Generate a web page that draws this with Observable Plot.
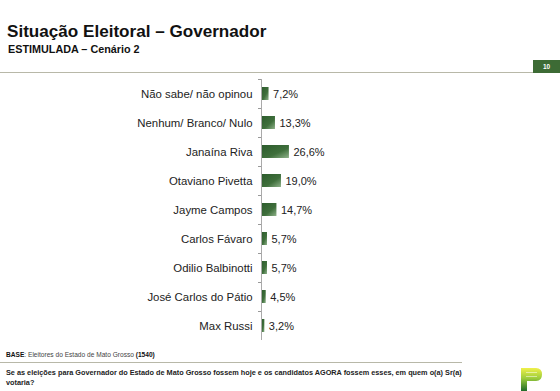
<!DOCTYPE html>
<html>
<head>
<meta charset="utf-8">
<script src="https://cdn.jsdelivr.net/npm/d3@7"></script>
<script src="https://cdn.jsdelivr.net/npm/@observablehq/plot@0.6"></script>
<style>
  html, body { margin: 0; padding: 0; background: #fff; }
  #page { position: relative; width: 560px; height: 391px; overflow: hidden; font-family: "Liberation Sans", Arial, sans-serif; color: #111; }
  #title { position: absolute; left: 7px; top: 22px; font-size: 17.1px; font-weight: bold; white-space: nowrap; }
  #subtitle { position: absolute; left: 8px; top: 43px; font-size: 10.8px; font-weight: bold; white-space: nowrap; }
  #topline { position: absolute; left: 0; top: 72px; width: 534px; height: 1px; background: #b8b8a8; }
  #pagebox { position: absolute; left: 533px; top: 60px; width: 27px; height: 13px; background: #3d6b35; color: #fff; font-size: 6.5px; font-weight: bold; text-align: center; line-height: 13px; }
  #chart { position: absolute; left: 0; top: 79px; }
  #base { position: absolute; left: 6px; top: 351px; font-size: 6.6px; color: #444; white-space: nowrap; }
  #base b { color: #111; }
  #bottomline { position: absolute; left: 0; top: 362px; width: 462px; height: 1px; background: #b8b8a8; }
  #question { position: absolute; left: 6px; top: 368px; width: 470px; font-size: 7.3px; font-weight: bold; line-height: 9.5px; color: #222; }
  #logo { position: absolute; left: 521px; top: 367px; }
</style>
</head>
<body>
<div id="page">
  <div id="title">Situação Eleitoral – Governador</div>
  <div id="subtitle">ESTIMULADA – Cenário 2</div>
  <div id="topline"></div>
  <div id="pagebox">10</div>
  <div id="chart"></div>
  <div id="base"><b>BASE</b>: Eleitores do Estado de Mato Grosso <b>(1540)</b></div>
  <div id="bottomline"></div>
  <div id="question">Se as eleições para Governador do Estado de Mato Grosso fossem hoje e os candidatos AGORA fossem esses, em quem o(a) Sr(a) votaria?</div>
  <svg id="logo" width="22" height="24" viewBox="0 0 22 24">
    <defs>
      <linearGradient id="logoGrad" x1="0" y1="0" x2="0" y2="1">
        <stop offset="0" stop-color="#f0f04a"/>
        <stop offset="0.45" stop-color="#9ccc3c"/>
        <stop offset="1" stop-color="#1f6b2a"/>
      </linearGradient>
    </defs>
    <path d="M0 1 H15 Q21 1 21 7.5 Q21 14 15 14 H6 V24 H0 Z" fill="url(#logoGrad)"/>
    <rect x="5" y="5" width="11" height="1" fill="#fff" opacity="0.5"/>
    <rect x="5" y="9" width="11" height="1" fill="#fff" opacity="0.5"/>
  </svg>
</div>
<script>
const categories = [
  "Não sabe/ não opinou",
  "Nenhum/ Branco/ Nulo",
  "Janaína Riva",
  "Otaviano Pivetta",
  "Jayme Campos",
  "Carlos Fávaro",
  "Odilio Balbinotti",
  "José Carlos do Pátio",
  "Max Russi"
];
const values = [7.2, 13.3, 26.6, 19.0, 14.7, 5.7, 5.7, 4.5, 3.2];

const data = categories.map((c, i) => ({name: c, value: values[i]}));
const fmt = v => v.toFixed(1).replace(".", ",") + "%";

const chart = Plot.plot({
  width: 560,
  height: 263,
  marginLeft: 261,
  marginRight: 194,
  marginTop: 0,
  marginBottom: 2,
  style: {fontFamily: "'Liberation Sans', Arial, sans-serif", fontSize: "11px", color: "#222", background: "transparent", overflow: "visible"},
  x: {domain: [0, 100], axis: null},
  y: {domain: categories, paddingInner: 0.56, paddingOuter: 0.28, align: 0.5, axis: null},
  marks: [
    Plot.barX(data, {y: "name", x: "value", fill: "url(#barGrad)"}),
    Plot.text(data, {y: "name", x: "value", text: d => fmt(d.value), textAnchor: "start", dx: 4, fontSize: 11, fill: "#222"}),
    Plot.axisY({tickSize: 0, tickPadding: 9, fontSize: 11.4, fill: "#222", label: null}),
    Plot.axisY({tickSize: 3, tickFormat: () => "", stroke: "#999", dy: -14.5, label: null}),
    Plot.ruleX([0], {stroke: "#aaa", strokeWidth: 1})
  ]
});

// gradient definition for bars
const ns = "http://www.w3.org/2000/svg";
const defs = document.createElementNS(ns, "defs");
defs.innerHTML = `<linearGradient id="barGrad" x1="0" y1="0" x2="1" y2="1">
  <stop offset="0" stop-color="#2b5a2b"/>
  <stop offset="0.6" stop-color="#3f6f3c"/>
  <stop offset="1" stop-color="#8fb28a"/>
</linearGradient>`;
chart.insertBefore(defs, chart.firstChild);
document.getElementById("chart").appendChild(chart);
</script>
</body>
</html>
